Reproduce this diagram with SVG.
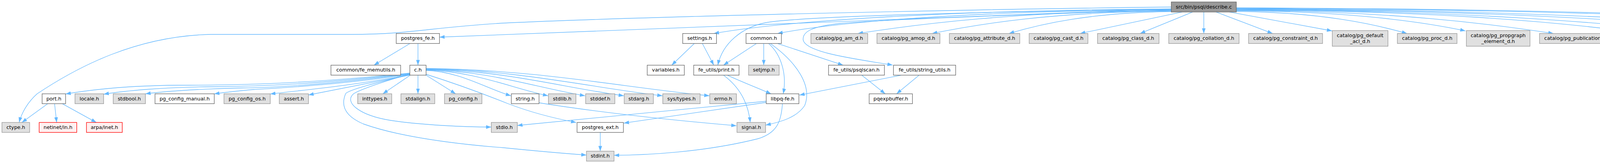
<svg xmlns="http://www.w3.org/2000/svg" width="5163" height="417" viewBox="0 0 5163 417">
<defs>
<marker id="a" markerUnits="userSpaceOnUse" markerWidth="14" markerHeight="10" refX="13.3" refY="4.7" orient="auto" viewBox="0 0 14 10">
<path d="M0,0 L13.3,4.7 L0,9.4 z" fill="#63b8ff"/>
</marker>
<style>
rect{stroke-width:1.33}
.w{fill:#ffffff;stroke:#666666}
.g{fill:#e0e0e0;stroke:#999999}
.r{fill:#fff0f0;stroke:#ff0000}
.m{fill:#999999;stroke:#666666}
text{font-family:"DejaVu Sans",sans-serif;font-size:12.8px;fill:#000000;text-anchor:middle}
#edges path{fill:none;stroke:#63b8ff;stroke-width:1.33;marker-end:url(#a)}
</style>
</defs>
<rect x="0" y="0" width="5163" height="417" fill="#ffffff"/>
<g id="edges">
<path d="M3081.7,30.7 L3081.7,85.7"/>
<path d="M3053,30.7 L2918.6,85.7"/>
<path d="M3026.7,30.7 L2765,85.7"/>
<path d="M2998.5,29.5 C2790.8,32.5 2666.1,60.7 2583,85.7"/>
<path d="M2998.5,28 C2692.3,31 2508.5,60.7 2386,85.7"/>
<path d="M2998.5,27 C2597.3,30 2356.5,60.7 2196,85.7"/>
<path d="M2998.5,26 C2700,34 2250,50 2150,60 C2075,68 2056,82 2056,100 C2056,135 2200,152 2285,166.5"/>
<path d="M2998.5,25 C2494.5,28 2150,55 1990.5,85.7"/>
<path d="M2998.5,24 C2500,30 2050,42 1960,58 C1900,70 1850,110 1837.6,166.7"/>
<path d="M2998.5,23 C2413,26 2000,55 1827.3,85.7"/>
<path d="M2998.5,22.4 L1125.1,95"/>
<path d="M2998.5,18 C2600,22 1700,40 1290,59 C1100,70 1050,88 900,88 L540,88 C350,92 200,170 95,240 C70,262 55,290 49,313.3"/>
<path d="M3113,30.7 L3258,85.7"/>
<path d="M3146.7,30.7 L3410,79"/>
<path d="M3165,29 C3383.5,32 3514.6,60.7 3602,85.7"/>
<path d="M3165,27 C3458,30 3634,54 3751.4,79"/>
<path d="M3165,26 C3571,29 3814.6,60.7 3977,85.7"/>
<path d="M3165,25 C3662,28 3960,54 4159,79"/>
<path d="M3165,24 C3769,27 4131.4,60.7 4373,85.7"/>
<path d="M3165,23 C3877,26 4304,60.7 4589,85.7"/>
<path d="M3165,22 C3964,25 4443.4,60.7 4763,85.7"/>
<path d="M3165,21 C4041,24 4650,50 4917.7,85.7"/>
<path d="M3165,20 C4103,23 4750,50 5042,85.7"/>
<path d="M1049.6,111.3 L957.2,166.7"/>
<path d="M1070,111.3 L1070,166.7"/>
<path d="M1777.5,111.3 L1719.5,166.7"/>
<path d="M1798,111.3 L1827.3,166.7"/>
<path d="M1936.6,111.3 L1852,166.7"/>
<path d="M1955.2,111.3 L1955.2,166.7"/>
<path d="M1967.7,111.3 C2000,140 2015,190 2005,240"/>
<path d="M1972,111.3 C2040,160 2080,220 2060,270 C2040,300 2000,312 1960,320"/>
<path d="M1990.5,111.3 L2158.4,166.7"/>
<path d="M2206,192.3 L2266.2,240"/>
<path d="M2353,192.3 L2295.2,240"/>
<path d="M2307.6,192.3 L2046.5,243.3"/>
<path d="M1862,192.3 C1900,210 1940,225 1974,240"/>
<path d="M1852,192.3 C1890,220 1915,260 1920.6,313.3"/>
<path d="M1049.2,187 C800,212 650,218 456,218 C320,219 230,230 168,240.5"/>
<path d="M1049.2,188 C820,214 680,221 540,222 C420,223 320,232 265.3,241"/>
<path d="M1049.2,189 C840,216 700,224 620,225 C500,228 420,234 372.3,240"/>
<path d="M1049.2,190 C870,218 700,226 650,229 C610,232 580,236 548.5,240"/>
<path d="M1049.2,191 C900,220 760,232 691.8,240.5"/>
<path d="M1049.2,192 L789.7,243"/>
<path d="M1050.4,192.3 L980,240"/>
<path d="M1070,192.3 L1070,240"/>
<path d="M1090.7,192.3 L1166.5,240"/>
<path d="M1049.2,190 C990,205 920,230 905,240 C880,262 920,295 1000,308 C1080,320 1190,325 1257.7,325"/>
<path d="M1049.2,191 C970,210 890,230 884.6,240 C870,275 890,300 930,317 C1050,360 1250,375 1290,378 C1380,387 1450,393 1501.4,396.7"/>
<path d="M1090.7,180 C1177.6,183.3 1242.8,225.5 1308,245"/>
<path d="M1090.7,179 C1215.6,182.3 1309.3,225.2 1403,245"/>
<path d="M1090.7,178 C1253.5,181.4 1375.6,224.9 1497.7,245"/>
<path d="M1090.7,177 C1293.2,180.4 1445.1,224.6 1597,245"/>
<path d="M1090.7,176 C1332.7,179.5 1514.3,224.3 1695.8,245"/>
<path d="M1090.7,175 C1380.8,178.5 1598.4,224 1816,245"/>
<path d="M1090.7,190 C1170,215 1250,245 1300,265 C1360,288 1420,303 1475,313.3"/>
<path d="M1961.5,259 L1324.4,321"/>
<path d="M1961.5,262 C1800,285 1700,300 1597,315"/>
<path d="M2003,265.3 C2000,310 1990,340 1940,355 C1800,390 1650,397 1571.9,397.3"/>
<path d="M1379.9,263 C1550,290 1750,310 1885.3,321.7"/>
<path d="M122.3,265.3 L56,313.3"/>
<path d="M139.7,265.3 L145,313.3"/>
<path d="M159.6,265.3 L246.7,313.3"/>
<path d="M1536.6,338.7 L1536.6,386.7"/>
</g>
<g id="n_describe_c"><rect class="m" x="2998.5" y="5" width="166.5" height="25.7"/><text x="3081.75" y="21.5">src/bin/psql/describe.c</text></g>
<g id="n_postgres_fe"><rect class="w" x="1014.4" y="85.7" width="110.7" height="25.6"/><text x="1069.75" y="102.2">postgres_fe.h</text></g>
<g id="n_settings"><rect class="w" x="1747.7" y="85.7" width="86.6" height="25.6"/><text x="1791" y="102.2">settings.h</text></g>
<g id="n_common"><rect class="w" x="1909.8" y="85.7" width="90.6" height="25.6"/><text x="1955.1" y="102.2">common.h</text></g>
<g id="n_pg_am_d"><rect class="g" x="2075.9" y="85.7" width="145.5" height="25.6"/><text x="2148.65" y="102.2">catalog/pg_am_d.h</text></g>
<g id="n_pg_amop_d"><rect class="g" x="2245" y="85.7" width="161.3" height="25.6"/><text x="2325.65" y="102.2">catalog/pg_amop_d.h</text></g>
<g id="n_pg_attribute_d"><rect class="g" x="2430.4" y="85.7" width="180.2" height="25.6"/><text x="2520.5" y="102.2">catalog/pg_attribute_d.h</text></g>
<g id="n_pg_cast_d"><rect class="g" x="2634.6" y="85.7" width="150.5" height="25.6"/><text x="2709.85" y="102.2">catalog/pg_cast_d.h</text></g>
<g id="n_pg_class_d"><rect class="g" x="2809.6" y="85.7" width="157.5" height="25.6"/><text x="2888.35" y="102.2">catalog/pg_class_d.h</text></g>
<g id="n_pg_collation_d"><rect class="g" x="2992" y="85.7" width="180" height="25.6"/><text x="3082" y="102.2">catalog/pg_collation_d.h</text></g>
<g id="n_pg_constraint_d"><rect class="g" x="3196.4" y="85.7" width="189.3" height="25.6"/><text x="3291.05" y="102.2">catalog/pg_constraint_d.h</text></g>
<g id="n_pg_default_acl_d"><rect class="g" x="3410.6" y="78.3" width="142.6" height="40"/><text x="3481.9" y="95">catalog/pg_default</text><text x="3481.9" y="109.5">_acl_d.h</text></g>
<g id="n_pg_proc_d"><rect class="g" x="3577.3" y="85.7" width="152.6" height="25.6"/><text x="3653.6" y="102.2">catalog/pg_proc_d.h</text></g>
<g id="n_pg_propgraph_element_d"><rect class="g" x="3753.9" y="78.3" width="162.8" height="40"/><text x="3835.3" y="95">catalog/pg_propgraph</text><text x="3835.3" y="109.5">_element_d.h</text></g>
<g id="n_pg_publication_d"><rect class="g" x="3941.2" y="85.7" width="196.1" height="25.6"/><text x="4039.25" y="102.2">catalog/pg_publication_d.h</text></g>
<g id="n_pg_statistic_ext_d"><rect class="g" x="4161.7" y="78.3" width="149.7" height="40"/><text x="4236.55" y="95">catalog/pg_statistic</text><text x="4236.55" y="109.5">_ext_d.h</text></g>
<g id="n_pg_subscription_d"><rect class="g" x="4335.4" y="85.7" width="201.6" height="25.6"/><text x="4436.2" y="102.2">catalog/pg_subscription_d.h</text></g>
<g id="n_pg_type_d"><rect class="g" x="4562.8" y="85.7" width="153.3" height="25.6"/><text x="4639.45" y="102.2">catalog/pg_type_d.h</text></g>
<g id="n_common_logging"><rect class="w" x="4740" y="85.7" width="142.4" height="25.6"/><text x="4811.2" y="102.2">common/logging.h</text></g>
<g id="n_describe_h"><rect class="w" x="4906.4" y="85.7" width="89.7" height="25.6"/><text x="4951.25" y="102.2">describe.h</text></g>
<g id="n_mbprint"><rect class="w" x="5019.6" y="85.7" width="137.7" height="25.6"/><text x="5088.45" y="102.2">fe_utils/mbprint.h</text></g>
<g id="n_fe_memutils"><rect class="w" x="847.3" y="166.7" width="178.3" height="25.6"/><text x="936.45" y="183.2">common/fe_memutils.h</text></g>
<g id="n_c_h"><rect class="w" x="1049.2" y="166.7" width="41.5" height="25.6"/><text x="1069.95" y="183.2">c.h</text></g>
<g id="n_variables"><rect class="w" x="1656.9" y="166.7" width="94.9" height="25.6"/><text x="1704.35" y="183.2">variables.h</text></g>
<g id="n_print"><rect class="w" x="1775.9" y="166.7" width="116" height="25.6"/><text x="1833.9" y="183.2">fe_utils/print.h</text></g>
<g id="n_setjmp"><rect class="g" x="1916.4" y="166.7" width="78.2" height="25.6"/><text x="1955.5" y="183.2">setjmp.h</text></g>
<g id="n_psqlscan"><rect class="w" x="2121.1" y="166.7" width="143" height="25.6"/><text x="2192.6" y="183.2">fe_utils/psqlscan.h</text></g>
<g id="n_string_utils"><rect class="w" x="2287.3" y="166.7" width="159.2" height="25.6"/><text x="2366.9" y="183.2">fe_utils/string_utils.h</text></g>
<g id="n_port"><rect class="w" x="107.8" y="240" width="60.1" height="25.3"/><text x="137.85" y="256.5">port.h</text></g>
<g id="n_locale"><rect class="g" x="192" y="240" width="73.3" height="25.3"/><text x="228.65" y="256.5">locale.h</text></g>
<g id="n_stdbool"><rect class="g" x="289.8" y="240" width="82.5" height="25.3"/><text x="331.05" y="256.5">stdbool.h</text></g>
<g id="n_pg_config_manual"><rect class="w" x="396.8" y="240" width="151.7" height="25.3"/><text x="472.65" y="256.5">pg_config_manual.h</text></g>
<g id="n_pg_config_os"><rect class="g" x="573.4" y="240" width="118.4" height="25.3"/><text x="632.6" y="256.5">pg_config_os.h</text></g>
<g id="n_assert"><rect class="g" x="715" y="240" width="74.7" height="25.3"/><text x="752.35" y="256.5">assert.h</text></g>
<g id="n_inttypes"><rect class="g" x="915.7" y="240" width="87.1" height="25.3"/><text x="959.25" y="256.5">inttypes.h</text></g>
<g id="n_stdalign"><rect class="g" x="1026.4" y="240" width="86.6" height="25.3"/><text x="1069.7" y="256.5">stdalign.h</text></g>
<g id="n_pg_config"><rect class="g" x="1137.9" y="240" width="95.8" height="25.3"/><text x="1185.8" y="256.5">pg_config.h</text></g>
<g id="n_string"><rect class="w" x="1309" y="240" width="70.9" height="25.3"/><text x="1344.45" y="256.5">string.h</text></g>
<g id="n_stdlib"><rect class="g" x="1404" y="240" width="70.4" height="25.3"/><text x="1439.2" y="256.5">stdlib.h</text></g>
<g id="n_stddef"><rect class="g" x="1499.3" y="240" width="74.7" height="25.3"/><text x="1536.65" y="256.5">stddef.h</text></g>
<g id="n_stdarg"><rect class="g" x="1598" y="240" width="74.6" height="25.3"/><text x="1635.3" y="256.5">stdarg.h</text></g>
<g id="n_sys_types"><rect class="g" x="1696.7" y="240" width="95.7" height="25.3"/><text x="1744.55" y="256.5">sys/types.h</text></g>
<g id="n_errno"><rect class="g" x="1816.9" y="240" width="68.4" height="25.3"/><text x="1851.1" y="256.5">errno.h</text></g>
<g id="n_libpq_fe"><rect class="w" x="1961.5" y="240" width="83.7" height="25.3"/><text x="2003.35" y="256.5">libpq-fe.h</text></g>
<g id="n_pqexpbuffer"><rect class="w" x="2225.1" y="240" width="110.7" height="25.3"/><text x="2280.45" y="256.5">pqexpbuffer.h</text></g>
<g id="n_ctype"><rect class="g" x="5" y="313.3" width="70.9" height="25.4"/><text x="40.45" y="329.8">ctype.h</text></g>
<g id="n_netinet_in"><rect class="r" x="100.3" y="313.3" width="96.2" height="25.4"/><text x="148.4" y="329.8">netinet/in.h</text></g>
<g id="n_arpa_inet"><rect class="r" x="221.4" y="313.3" width="91.6" height="25.4"/><text x="267.2" y="329.8">arpa/inet.h</text></g>
<g id="n_stdio"><rect class="g" x="1257.7" y="313.3" width="66.7" height="25.4"/><text x="1291.05" y="329.8">stdio.h</text></g>
<g id="n_postgres_ext"><rect class="w" x="1477.3" y="313.3" width="118.6" height="25.4"/><text x="1536.6" y="329.8">postgres_ext.h</text></g>
<g id="n_signal"><rect class="g" x="1886.6" y="313.3" width="73.2" height="25.4"/><text x="1923.2" y="329.8">signal.h</text></g>
<g id="n_stdint"><rect class="g" x="1501.4" y="386.7" width="70.5" height="25.6"/><text x="1536.65" y="403.2">stdint.h</text></g>
</svg>
